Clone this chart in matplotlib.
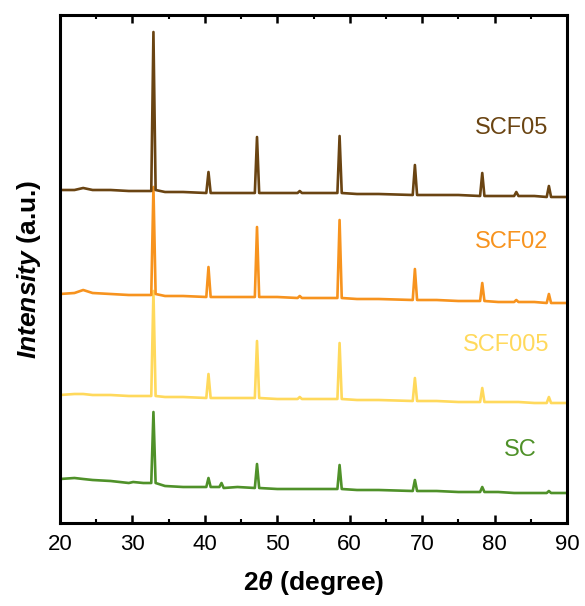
import matplotlib
matplotlib.use("Agg")
import matplotlib.pyplot as plt
from matplotlib.ticker import MultipleLocator

# ── data (2θ grid shared by all patterns, intensities in a.u. incl. offset) ──
two_theta = [20.0, 22.0, 23.2, 24.5, 27.0, 29.5, 30.1, 31.5, 32.6, 32.9,
             33.2, 34.5, 37.0, 40.2, 40.5, 40.8, 42.0, 42.3, 42.6, 44.5,
             46.9, 47.2, 47.5, 50.0, 52.8, 53.1, 53.4, 55.5, 58.3, 58.6,
             58.9, 61.0, 64.0, 68.7, 69.0, 69.3, 72.0, 75.0, 78.0, 78.3,
             78.6, 80.5, 82.7, 83.0, 83.3, 85.5, 87.2, 87.5, 87.8, 90.0]

sc = [44, 45, 44, 43, 42, 40, 41, 40, 40, 111,
      40, 37, 36, 36, 45, 36, 36, 40, 35, 36,
      35, 59, 35, 34, 34, 34, 34, 34, 34, 58,
      34, 33, 33, 32, 43, 32, 32, 31, 31, 36,
      31, 31, 30, 30, 30, 30, 30, 32, 30, 30]

scf005 = [128, 129, 129, 128, 128, 127, 127, 127, 127, 232,
          127, 126, 126, 125, 149, 125, 125, 125, 125, 125,
          125, 182, 125, 124, 124, 126, 124, 124, 124, 180,
          124, 123, 123, 122, 145, 122, 122, 121, 121, 135,
          121, 121, 121, 121, 121, 120, 120, 126, 120, 120]

scf02 = [229, 230, 233, 230, 229, 228, 228, 228, 228, 336,
         229, 227, 227, 226, 256, 226, 226, 226, 226, 226,
         226, 296, 226, 226, 225, 227, 225, 225, 225, 303,
         225, 224, 224, 223, 254, 223, 223, 222, 222, 240,
         222, 221, 221, 223, 221, 221, 220, 229, 220, 220]

scf05 = [333, 333, 335, 333, 333, 332, 332, 332, 332, 491,
         333, 331, 331, 330, 351, 330, 330, 330, 330, 330,
         330, 386, 330, 330, 330, 332, 330, 330, 330, 387,
         330, 329, 329, 328, 358, 328, 328, 328, 327, 350,
         327, 327, 327, 331, 327, 327, 326, 337, 326, 326]

names = ["SC", "SCF005", "SCF02", "SCF05"]
series = [sc, scf005, scf02, scf05]
colors = ["#4F9129", "#FFD95C", "#F7931E", "#6A4412"]

# ── style ──
plt.rcParams["font.family"] = ["Liberation Sans", "DejaVu Sans"]
plt.rcParams["mathtext.fontset"] = "custom"
plt.rcParams["mathtext.it"] = "Liberation Sans:italic:bold"
plt.rcParams["mathtext.rm"] = "Liberation Sans:bold"

fig = plt.figure(figsize=(5.85, 6.06), dpi=100)
ax = fig.add_axes([60 / 585, 83 / 606, 507 / 585, 508 / 606])

for ys, c in zip(series, colors):
    ax.plot(two_theta, ys, color=c, lw=1.9)

# sample labels
label_pos = [(83.6, 73), (81.6, 178), (82.3, 281), (82.3, 395)]
for name, c, (lx, ly) in zip(names, colors, label_pos):
    ax.text(lx, ly, name, color=c, fontsize=17, ha="center", va="center")

ax.set_xlim(20, 90)
ax.set_ylim(0, 508)
ax.xaxis.set_major_locator(MultipleLocator(10))
ax.xaxis.set_minor_locator(MultipleLocator(5))
ax.set_yticks([])
ax.tick_params(axis="x", which="both", direction="in", top=True,
               labelsize=16, pad=8)
ax.tick_params(axis="x", which="major", length=5.5, width=1.8)
ax.tick_params(axis="x", which="minor", length=3, width=1.5)
for s in ax.spines.values():
    s.set_linewidth(2.2)

ax.set_xlabel(r"2$\mathit{\theta}$ (degree)", fontsize=19,
              fontweight="bold", labelpad=10)
ax.set_ylabel(r"$\mathit{Intensity}$ (a.u.)", fontsize=19,
              fontweight="bold", labelpad=12)

fig.savefig("out.png", dpi=100)
